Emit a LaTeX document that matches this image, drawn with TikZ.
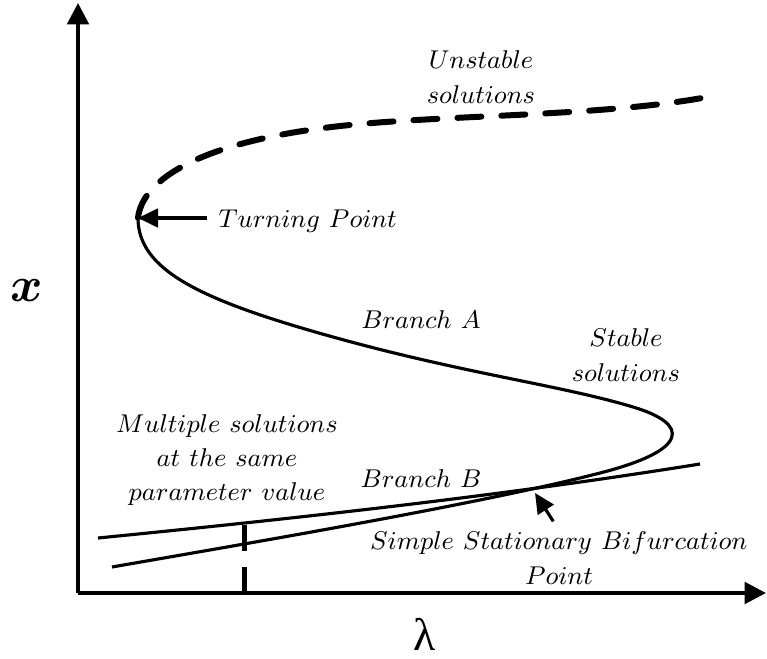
\documentclass[tikz,border=0pt]{standalone}
\usepackage{amsmath,bm}
\usepackage{fontspec}
\newfontfamily\grk{Liberation Serif}
\usetikzlibrary{arrows.meta}

\begin{document}
\begin{tikzpicture}[x=0.35pt, y=-0.35pt, font=\fontsize{9.3}{12}\selectfont,
  ax/.style={line width=1.4pt, -{Triangle[length=7.5pt, width=7.5pt]}},
  sol/.style={line width=1.1pt},
  uns/.style={line width=2.1pt, dash pattern=on 8.4pt off 7pt, line cap=round},
  l/.style={inner sep=0pt, align=center},
  p/.style={line width=1.1pt, -{Triangle[length=7pt, width=6.5pt]}}]
  \useasboundingbox (0,0) rectangle (767,659);
  \coordinate (o) at (78,593);
  \coordinate (ytop) at (78,3);
  \coordinate (xend) at (766,593);
  \coordinate (tp) at (138,218);
  \coordinate (bif) at (535,493);
  \coordinate (mu) at (244,525);
  \coordinate (mb) at (244,593);
  % axes
  \draw[ax] (o |- xend) -- (ytop);
  \draw[ax] (o) -- (xend);
  \node (xl) at (27,291) {\fontsize{17}{20}\selectfont$\bm{x}$};
  \node[inner sep=0pt] (lam) at (425,634) {\grk\fontsize{16}{18}\selectfont λ};
  % solution curve
  \draw[uns] (tp) .. controls (142,180) and (200,140) .. (350,125)
    .. controls (450,115) and (600,116) .. (702,98);
  \draw[sol] (tp) .. controls (138,270) and (200,300) .. (333,337)
    .. controls (466,374) and (560,385) .. (633,407)
    .. controls (690,424) and (690,450) .. (600,473)
    .. controls (480,504) and (250,543) .. (112,567);
  \draw[sol] (98,538) .. controls (300,518) and (500,496) .. (700,464);
  \draw[line width=1.75pt, dash pattern=on 9.1pt off 5.6pt] (mu) -- (mb);
  % labels
  \node[l] (uns) at (481,77) {$Unstable$\\$solutions$};
  \node[l] (stb) at (626,355) {$Stable$\\$solutions$};
  \node[l, anchor=base] (bra) at (421,328) {$Branch\ A$};
  \node[l, anchor=base] (brb) at (421,487) {$Branch\ B$};
  \node[l] (mult) at (227,460) {$Multiple\ solutions$\\$at\ the\ same$\\$parameter\ value$};
  \node[l, anchor=base west] (turn) at (218,228) {$Turning\ Point$};
  \node[l] (sbp) at (559,558) {$Simple\ Stationary\ Bifurcation$\\$Point$};
  \draw[p] ([xshift=-3.8pt]turn.west |- tp) -- (tp);
  \draw[p] ([xshift=-2pt, yshift=3.5pt]sbp.north) -- (bif);
\end{tikzpicture}
\end{document}
